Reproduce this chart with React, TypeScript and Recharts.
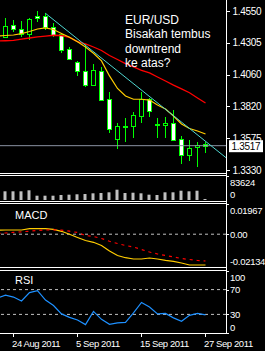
import { ComposedChart, Bar, Line, XAxis, YAxis, ReferenceLine } from 'recharts'

// first entry is the bar just left of the window: only its indicator values show
const dates = ['22 Aug 2011', '23 Aug 2011', '24 Aug 2011', '25 Aug 2011', '26 Aug 2011', '29 Aug 2011', '30 Aug 2011', '31 Aug 2011', '1 Sep 2011', '2 Sep 2011', '5 Sep 2011', '6 Sep 2011', '7 Sep 2011', '8 Sep 2011', '9 Sep 2011', '12 Sep 2011', '13 Sep 2011', '14 Sep 2011', '15 Sep 2011', '16 Sep 2011', '19 Sep 2011', '20 Sep 2011', '21 Sep 2011', '22 Sep 2011', '23 Sep 2011', '26 Sep 2011', '27 Sep 2011']

const opens = [null, 1.4348, 1.4443, 1.4412, 1.4374, 1.4512, 1.4512, 1.4427, 1.4374, 1.4256, 1.4159, 1.409, 1.3982, 1.4092, 1.3873, 1.3572, 1.3666, 1.367, 1.3747, 1.3873, 1.3681, 1.3676, 1.3693, 1.3566, 1.3446, 1.3507, 1.353]
const highs = [null, 1.4499, 1.4481, 1.4473, 1.4494, 1.455, 1.4532, 1.446, 1.4379, 1.4276, 1.4167, 1.4297, 1.4144, 1.4123, 1.3931, 1.3689, 1.3729, 1.3773, 1.3931, 1.388, 1.3727, 1.3739, 1.3791, 1.3591, 1.3561, 1.3548, 1.3548]
const lows = [null, 1.4341, 1.4389, 1.4353, 1.4328, 1.4468, 1.4404, 1.4348, 1.4226, 1.4174, 1.4052, 1.3965, 1.3979, 1.3862, 1.3612, 1.3488, 1.3548, 1.3574, 1.3689, 1.3739, 1.3574, 1.3574, 1.3555, 1.3377, 1.3402, 1.3351, 1.3463]
const closes = [null, 1.4435, 1.4412, 1.4374, 1.4489, 1.4496, 1.4427, 1.4366, 1.4253, 1.4184, 1.4086, 1.3982, 1.4098, 1.387, 1.3647, 1.3668, 1.367, 1.375, 1.3873, 1.3785, 1.3686, 1.3693, 1.3561, 1.3446, 1.3502, 1.3522, 1.3517]
const maSlow = [1.432, 1.4322, 1.4325, 1.4335, 1.4343, 1.4351, 1.4358, 1.4364, 1.4362, 1.4348, 1.4315, 1.4297, 1.4274, 1.4247, 1.4209, 1.4178, 1.4147, 1.4121, 1.4095, 1.4075, 1.4044, 1.4013, 1.3982, 1.3953, 1.3923, 1.3883, 1.3844]
const maFast = [1.4358, 1.4362, 1.4366, 1.4377, 1.4393, 1.4412, 1.442, 1.4408, 1.4378, 1.4349, 1.4314, 1.4274, 1.4226, 1.4167, 1.4052, 1.3956, 1.3898, 1.3873, 1.3873, 1.3867, 1.3829, 1.3798, 1.3745, 1.3683, 1.3649, 1.363, 1.3607]
const volumes = [null, 30300, 30300, 30300, 33800, 15000, 15000, 15000, 17400, 18500, 19900, 20900, 23300, 24400, 26800, 35900, 24400, 25400, 23300, 18500, 17400, 26800, 26800, 32400, 30300, 32400, 3500]
const macdMain = [0.00255, 0.00274, 0.00274, 0.00274, 0.00359, 0.00359, 0.00359, 0.0032, 0.0019, -0.00006, -0.00214, -0.00409, -0.00526, -0.00735, -0.01093, -0.01386, -0.01529, -0.01614, -0.01614, -0.01548, -0.01614, -0.01698, -0.01763, -0.01874, -0.02004, -0.02004, -0.02004]
const macdSignal = [0.00047, 0.00079, 0.00125, 0.00157, 0.00196, 0.00248, 0.00274, 0.00287, 0.00261, 0.00196, 0.00112, -0.00084, -0.00149, -0.00279, -0.00461, -0.00605, -0.00735, -0.00832, -0.00995, -0.01158, -0.01288, -0.01386, -0.01483, -0.01581, -0.01646, -0.01711, -0.01744]
const rsi = [56.4, 60.9, 58, 51.6, 65.2, 68.4, 53.2, 44.4, 30.8, 25.2, 20.9, 13.5, 34.8, 22, 14, 16.4, 17.2, 32.4, 49.2, 42, 30.8, 31.6, 24.4, 18.8, 28.4, 31.6, 29.2]

const priceTicks = [1.455, 1.4305, 1.406, 1.382, 1.3575, 1.333]
const lastPrice = 1.3517
const volTicks = [0, 83624]
const macdTicks = [-0.02134, 0, 0.01967]
const rsiTicks = [0, 30, 70, 100]
const rsiLevels = [30, 70]
const dateTicks = [1, 9, 17, 25]
// downtrend line anchors: [bar index, price]
const trendStart = [5, 1.4532]
const trendEnd = [27.5625, 1.3425]

const rows = dates.map((date, i) => ({
    idx: i - 1,
    date,
    open: opens[i],
    high: highs[i],
    low: lows[i],
    close: closes[i],
    maSlow: maSlow[i],
    maFast: maFast[i],
    vol: volumes[i],
    macd: macdMain[i],
    signal: macdSignal[i],
    rsi: rsi[i],
}))

const xDomain = [-0.6875, 27.5625]
const FONT = '"Liberation Sans", Arial, sans-serif'
const GREEN = '#00ff00'
const W = 265

function Candle(props: any) {
    const { x, y, width, height, payload } = props
    if (payload.open == null) return null
    const { open, close, high, low } = payload
    const cx = Math.floor(x + width / 2) + 0.5
    const k = height / (high - low)
    const yOf = (p: number) => y + (high - p) * k
    const top = Math.round(yOf(Math.max(open, close))) + 0.5
    const bot = Math.round(yOf(Math.min(open, close))) + 0.5
    return (
        <g>
            <line x1={cx} x2={cx} y1={Math.round(y)} y2={Math.round(y + height)} stroke={GREEN} strokeWidth={1} />
            <rect x={cx - 2} y={top} width={4} height={Math.max(bot - top, 1)} fill={close >= open ? '#000' : '#fff'} stroke={GREEN} strokeWidth={1} />
        </g>
    )
}

function PriceTick({ x, y, payload }: any) {
    const v = payload.value
    if (v === lastPrice) {
        return (
            <g>
                <rect x={x + 3} y={y - 5.5} width={34} height={12} fill="#fff" />
                <text x={x + 20} y={y + 1} textAnchor="middle" dominantBaseline="central" fill="#000" fontSize={10} fontFamily={FONT} letterSpacing={-0.3}>
                    {v.toFixed(4)}
                </text>
            </g>
        )
    }
    return (
        <g>
            <line x1={x + 1} x2={x + 4} y1={Math.round(y) + 0.5} y2={Math.round(y) + 0.5} stroke="#fff" />
            <text x={x + 6.5} y={y} dominantBaseline="central" fill="#fff" fontSize={10} fontFamily={FONT} letterSpacing={-0.3}>
                {v.toFixed(4)}
            </text>
        </g>
    )
}

// indicator panes: top/bottom labels are pushed inside the pane, like the terminal does
function makeSideTick(min: number, max: number, fmt: (v: number) => string) {
    return function SideTick({ x, y, payload }: any) {
        const v = payload.value
        const dy = v === max ? 6 : v === min ? -6 : 0
        return (
            <g>
                <line x1={x + 1} x2={x + 3} y1={Math.round(y) + 0.5} y2={Math.round(y) + 0.5} stroke="#fff" />
                <text x={x + 4} y={y + dy} dominantBaseline="central" fill="#fff" fontSize={9.5} fontFamily={FONT} letterSpacing={-0.3}>
                    {fmt(v)}
                </text>
            </g>
        )
    }
}

const VolTick = makeSideTick(0, 83624, (v) => String(v))
const MacdTick = makeSideTick(-0.02134, 0.01967, (v) => (v === 0 ? '0.00' : v.toFixed(5)))
const RsiTick = makeSideTick(0, 100, (v) => String(v))

function DateTick({ x, y, payload }: any) {
    const label = rows.find((r) => r.idx === payload.value)?.date
    const tx = Math.floor(x) + 0.5
    return (
        <g>
            <line x1={tx} x2={tx} y1={y} y2={y + 4} stroke="#fff" />
            <text x={tx - 1.5} y={y + 13.5} fill="#fff" fontSize={9.5} fontFamily={FONT} letterSpacing={-0.4}>
                {label}
            </text>
        </g>
    )
}

const hLine = (top: number) => (
    <div style={{ position: 'absolute', left: 0, top, width: 227, height: 1, background: '#fff' }} />
)

export default function App() {
    return (
        <div style={{ position: 'absolute', left: 0, top: 0, width: W, height: 351, background: '#000', overflow: 'hidden', fontFamily: FONT }}>
            {/* price pane */}
            <div style={{ position: 'absolute', left: 0, top: 0 }}>
                <ComposedChart width={W} height={176} data={rows} margin={{ top: 0, right: 0, bottom: 3, left: 0 }}>
                    <XAxis dataKey="idx" type="number" domain={xDomain} allowDataOverflow hide />
                    <YAxis
                        orientation="right"
                        width={39}
                        domain={[1.33075, 1.46344]}
                        allowDataOverflow
                        ticks={[...priceTicks, lastPrice]}
                        tick={PriceTick}
                        tickSize={0}
                        tickMargin={0}
                        axisLine={false}
                        tickLine={false}
                        interval={0}
                    />
                    <ReferenceLine y={lastPrice} stroke="#8a93a3" strokeWidth={1} />
                    <Line dataKey="maSlow" stroke="#ff0000" strokeWidth={1.3} dot={false} activeDot={false} isAnimationActive={false} />
                    <Line dataKey="maFast" stroke="#ffcc00" strokeWidth={1.2} dot={false} activeDot={false} isAnimationActive={false} />
                    <ReferenceLine
                        segment={[
                            { x: trendStart[0], y: trendStart[1] },
                            { x: trendEnd[0], y: trendEnd[1] },
                        ]}
                        stroke="#4fd6d0"
                        strokeWidth={1}
                    />
                    <Bar dataKey={(d: any) => [d.low, d.high]} barSize={5} shape={Candle} isAnimationActive={false} />
                </ComposedChart>
            </div>
            <div style={{ position: 'absolute', left: 125, top: 13, color: '#fff', fontSize: 12, lineHeight: '14.3px', whiteSpace: 'pre' }}>
                {'EUR/USD\nBisakah tembus\ndowntrend\nke atas?'}
            </div>

            {/* volume pane */}
            <div style={{ position: 'absolute', left: 0, top: 176 }}>
                <ComposedChart width={W} height={24} data={rows} margin={{ top: 0, right: 0, bottom: 0, left: 0 }}>
                    <XAxis dataKey="idx" type="number" domain={xDomain} allowDataOverflow hide />
                    <YAxis orientation="right" width={39} domain={[0, 83624]} ticks={volTicks} tick={VolTick} tickSize={0} tickMargin={0} axisLine={false} tickLine={false} interval={0} />
                    <Bar dataKey="vol" barSize={3} fill="#c0c0c0" isAnimationActive={false} />
                </ComposedChart>
            </div>

            {/* MACD pane */}
            <div style={{ position: 'absolute', left: 0, top: 204 }}>
                <ComposedChart width={W} height={63} data={rows} margin={{ top: 0, right: 0, bottom: 0, left: 0 }}>
                    <XAxis dataKey="idx" type="number" domain={xDomain} allowDataOverflow hide />
                    <YAxis orientation="right" width={39} domain={[-0.02134, 0.01967]} allowDataOverflow ticks={macdTicks} tick={MacdTick} tickSize={0} tickMargin={0} axisLine={false} tickLine={false} interval={0} />
                    <ReferenceLine y={0} stroke="#c0c0c0" strokeDasharray="3 3" />
                    <Line dataKey="macd" stroke="#ffcc00" strokeWidth={1.2} dot={false} activeDot={false} isAnimationActive={false} />
                    <Line dataKey="signal" stroke="#ff0000" strokeWidth={1.2} strokeDasharray="3 4" dot={false} activeDot={false} isAnimationActive={false} />
                </ComposedChart>
            </div>
            <div style={{ position: 'absolute', left: 15, top: 209, color: '#fff', fontSize: 11, lineHeight: '13px' }}>MACD</div>

            {/* RSI pane + date axis */}
            <div style={{ position: 'absolute', left: 0, top: 271 }}>
                <ComposedChart width={W} height={80} data={rows} margin={{ top: 0, right: 0, bottom: 0, left: 0 }}>
                    <XAxis
                        dataKey="idx"
                        type="number"
                        domain={xDomain}
                        allowDataOverflow
                        ticks={dateTicks}
                        tick={DateTick}
                        tickSize={0}
                        tickMargin={0}
                        height={18}
                        axisLine={false}
                        tickLine={false}
                        interval={0}
                    />
                    <YAxis orientation="right" width={39} domain={[0, 100]} allowDataOverflow ticks={rsiTicks} tick={RsiTick} tickSize={0} tickMargin={0} axisLine={false} tickLine={false} interval={0} />
                    {rsiLevels.map((lv) => (
                        <ReferenceLine key={lv} y={lv} stroke="#c0c0c0" strokeDasharray="3 3" />
                    ))}
                    <Line dataKey="rsi" stroke="#1e90ff" strokeWidth={1.2} dot={false} activeDot={false} isAnimationActive={false} />
                </ComposedChart>
            </div>
            <div style={{ position: 'absolute', left: 15, top: 274, color: '#fff', fontSize: 11, lineHeight: '13px' }}>RSI</div>

            {/* pane frames */}
            {hLine(173)}
            {hLine(175)}
            {hLine(201)}
            {hLine(203)}
            {hLine(267)}
            {hLine(270)}
            {hLine(333)}
            <div style={{ position: 'absolute', left: 226, top: 0, width: 1, height: 334, background: '#fff' }} />
        </div>
    )
}
